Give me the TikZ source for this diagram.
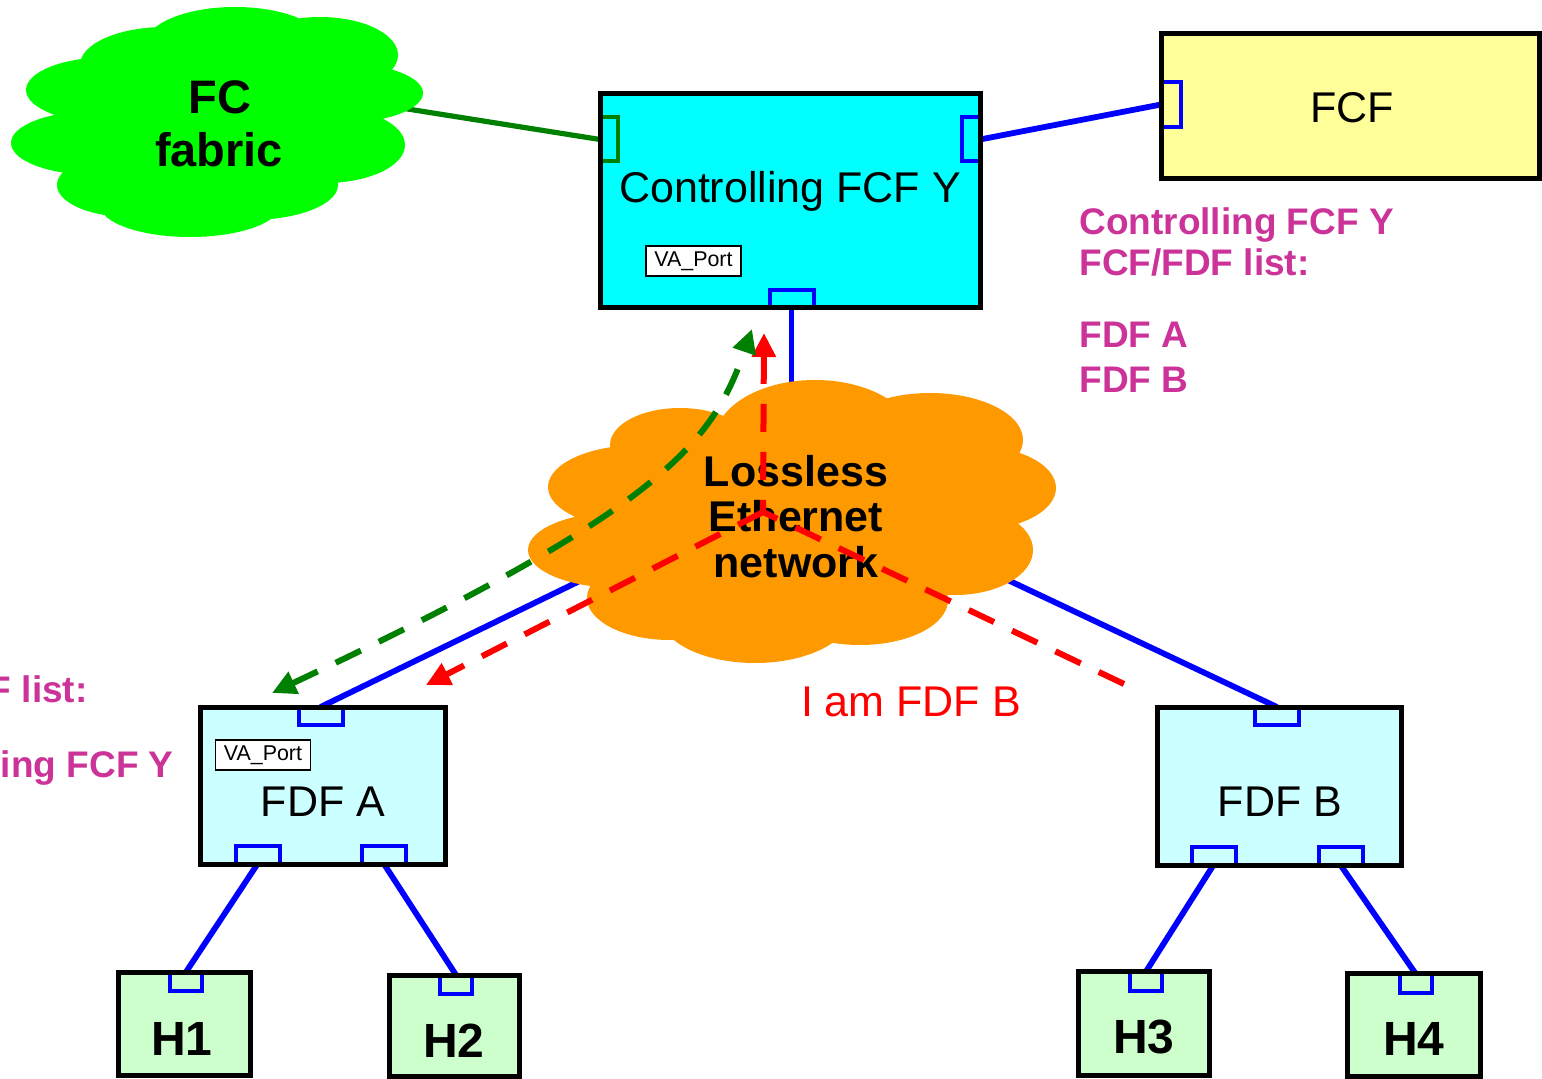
\documentclass[tikz,border=0pt]{standalone}
\usepackage{fontspec}
\setmainfont{Liberation Sans}
\usetikzlibrary{arrows.meta}
\pgfdeclarelayer{wires}
\pgfdeclarelayer{clouds}
\pgfsetlayers{wires,clouds,main}

\definecolor{ctrlcyan}{RGB}{0,255,255}
\definecolor{fdfcyan}{RGB}{204,255,255}
\definecolor{fcfyellow}{RGB}{255,255,153}
\definecolor{hostgreen}{RGB}{204,255,204}
\definecolor{fcgreen}{RGB}{0,255,0}
\definecolor{ethorange}{RGB}{255,153,0}
\definecolor{darkgreen}{RGB}{0,128,0}
\definecolor{listmag}{RGB}{204,51,153}

\begin{document}
\begin{tikzpicture}[x=0.5pt,y=-0.5pt,
  boxshell/.style={rectangle, inner sep=0pt, outer sep=0pt},
  boxedge/.style={draw=black, line width=2.5pt},
  portbox/.style={rectangle, inner sep=0pt, outer sep=0pt, draw=blue, line width=2pt,
    minimum width=22pt, minimum height=9pt},
  sideport/.style={portbox, minimum width=9pt, minimum height=22pt},
  hostport/.style={portbox, minimum width=16pt, minimum height=9.5pt},
  wire/.style={blue, line width=2.9pt},
  fcwire/.style={darkgreen, line width=2.6pt},
  msg/.style={line width=3pt, dash pattern=on 14pt off 10pt},
  msgred/.style={msg, red, -{Triangle[length=12pt,width=11.5pt]}},
  msggreen/.style={msg, darkgreen,
    {Triangle[length=12pt,width=11.5pt]}-{Triangle[length=12pt,width=11.5pt]}},
  plaintxt/.style={inner sep=0pt, anchor=base, font=\fontsize{21.5pt}{26pt}\selectfont},
  cloudtxt/.style={inner sep=0pt, anchor=base, font=\fontsize{21.5pt}{26pt}\selectfont\bfseries},
  fctxt/.style={inner sep=0pt, anchor=base, font=\fontsize{23.5pt}{28pt}\selectfont\bfseries},
  hosttxt/.style={inner sep=0pt, anchor=base, font=\fontsize{24pt}{28pt}\selectfont\bfseries},
  listtxt/.style={inner sep=0pt, text=listmag, font=\fontsize{18.5pt}{22pt}\selectfont\bfseries},
  vatag/.style={rectangle, draw=black, line width=0.75pt, fill=white, inner sep=0pt,
    minimum width=47.5pt, minimum height=15pt, font=\fontsize{10.7pt}{12pt}\selectfont},
]
\useasboundingbox (0,0) rectangle (1542,1079);
\clip (0,0) rectangle (1542,1079);

% ---------- switch and host boxes (fill only; edges drawn after the ports)
\node[boxshell, fill=ctrlcyan,  minimum width=190pt,  minimum height=107pt]  (cfcf) at (790,201) {};
\node[boxshell, fill=fcfyellow, minimum width=189pt,  minimum height=72.5pt] (fcf)  at (1350,106.5) {};
\node[boxshell, fill=fdfcyan,   minimum width=122.5pt,minimum height=78.5pt] (fdfa) at (323,785.5) {};
\node[boxshell, fill=fdfcyan,   minimum width=122pt,  minimum height=79pt]   (fdfb) at (1279.5,786) {};
\node[boxshell, fill=hostgreen, minimum width=66pt,   minimum height=51.5pt] (h1)   at (184.5,1024) {};
\node[boxshell, fill=hostgreen, minimum width=65pt,   minimum height=50.5pt] (h2)   at (454,1025.5) {};
\node[boxshell, fill=hostgreen, minimum width=65.5pt, minimum height=51.75pt](h3)   at (1144,1023.25) {};
\node[boxshell, fill=hostgreen, minimum width=66.25pt,minimum height=51.25pt](h4)   at (1413.75,1024.75) {};

% ---------- ports
\node[sideport, draw=darkgreen] (pcl) at (609,139.5) {};
\node[sideport] (pcr) at (971,139.5) {};
\node[portbox]  (pcb) at (791.5,299) {};
\node[sideport, minimum width=10pt, minimum height=22.5pt] (pf) at (1171,104.5) {};
\node[portbox]  (pat) at (320.5,716) {};
\node[portbox]  (pa1) at (257.5,855) {};
\node[portbox]  (pa2) at (384,855) {};
\node[portbox]  (pbt) at (1277,716) {};
\node[portbox]  (pb1) at (1213.5,856) {};
\node[portbox]  (pb2) at (1340.5,856) {};
\node[hostport] (hp1) at (186,981.5) {};
\node[hostport] (hp2) at (456,984.5) {};
\node[hostport] (hp3) at (1146,981) {};
\node[hostport] (hp4) at (1415.5,983) {};

% ---------- box edges on top of the ports
\foreach \b in {cfcf,fcf,fdfa,fdfb,h1,h2,h3,h4}
  \draw[boxedge] (\b.north west) rectangle (\b.south east);

% ---------- texts in the boxes
\node[plaintxt] (cfcf-t) at (790,203) {Controlling FCF Y};
\node[plaintxt] (fcf-t)  at (1352,123) {FCF};
\node[plaintxt] (fdfa-t) at (323,816) {FDF A};
\node[plaintxt] (fdfb-t) at (1280,816) {FDF B};
\node[vatag] (vac) at (693.5,261) {VA\_Port};
\node[vatag] (vaa) at (263,755) {VA\_Port};
\node[hosttxt] (h1-t) at (182,1055) {H1};
\node[hosttxt] (h2-t) at (454,1057) {H2};
\node[hosttxt] (h3-t) at (1144,1053) {H3};
\node[hosttxt] (h4-t) at (1414,1055) {H4};

% ---------- lists kept by the controlling FCF and by FDF A
\node[listtxt, anchor=base west] (lst1) at (1079,235) {Controlling FCF Y};
\node[listtxt, anchor=base west] (lst2) at (1079,276) {FCF/FDF list:};
\node[listtxt, anchor=base west] (lst3) at (1079,348) {FDF A};
\node[listtxt, anchor=base west] (lst4) at (1079,393) {FDF B};
\node[listtxt, anchor=base east] (lsa1) at (88,703) {FCF/FDF list:};
\node[listtxt, anchor=base east] (lsa2) at (174,777) {Controlling FCF Y};

% ---------- cloud labels
\node[fctxt] (fc-1) at (220,114) {FC};
\node[fctxt] (fc-2) at (219,167) {fabric};
\node[cloudtxt] (eth-1) at (796,487) {Lossless};
\node[cloudtxt] (eth-2) at (796,532) {Ethernet};
\node[cloudtxt] (eth-3) at (796,578) {network};

\coordinate (fcjoin) at (395,107);
\coordinate (hub) at (791.5,478);

% ---------- clouds
\begin{pgfonlayer}{clouds}
  \fill[fcgreen]
    (95,143) ellipse [x radius=84, y radius=32]
    (110,90) ellipse [x radius=84, y radius=33]
    (165,65) ellipse [x radius=85, y radius=38]
    (235,45) ellipse [x radius=90, y radius=38]
    (320,55) ellipse [x radius=78, y radius=38]
    (340,93) ellipse [x radius=83, y radius=30]
    (325,145) ellipse [x radius=80, y radius=38]
    (250,185) ellipse [x radius=88, y radius=35]
    (190,205) ellipse [x radius=90, y radius=32]
    (130,185) ellipse [x radius=73, y radius=32]
    (215,122) ellipse [x radius=150, y radius=80];
  \fill[ethorange]
    (680,445) ellipse [x radius=70, y radius=37]
    (640,487) ellipse [x radius=92, y radius=42]
    (620,550) ellipse [x radius=92, y radius=38]
    (670,598) ellipse [x radius=83, y radius=42]
    (755,615) ellipse [x radius=95, y radius=48]
    (815,440) ellipse [x radius=100, y radius=60]
    (930,440) ellipse [x radius=93, y radius=47]
    (975,488) ellipse [x radius=81, y radius=42]
    (955,550) ellipse [x radius=78, y radius=45]
    (860,600) ellipse [x radius=88, y radius=45]
    (790,520) ellipse [x radius=190, y radius=95];
\end{pgfonlayer}

% ---------- links
\begin{pgfonlayer}{wires}
  \draw[fcwire] (fcjoin) -- (pcl.west);
  \draw[wire] (pcr.east) -- (pf.west);
  \draw[wire] (pcb.south) -- (hub);
  \draw[wire] (pat.north) -- (hub);
  \draw[wire] (pbt.north) -- (hub);
  \draw[wire] (pa1.south) -- (hp1.north);
  \draw[wire] (pa2.south) -- (hp2.north);
  \draw[wire] (pb1.south) -- (hp3.north);
  \draw[wire] (pb2.south) -- (hp4.north);
\end{pgfonlayer}

% ---------- discovery messages
\coordinate (bsend) at (1124,684);
\coordinate (redjoin) at (763,512);
\coordinate (redup) at (764,333);
\coordinate (redleft) at (426,685);
\coordinate (gdown) at (272,693);
\coordinate (gup) at (752,329);
\draw[msgred] (bsend) -- (redjoin) -- (redup);
\draw[msgred] (redjoin) -- (redleft);
\draw[msggreen] (gdown) .. controls (660,510) and (712,445) .. (gup);
\node[plaintxt, text=red] (iam) at (911,716) {I am FDF B};
\end{tikzpicture}
\end{document}
